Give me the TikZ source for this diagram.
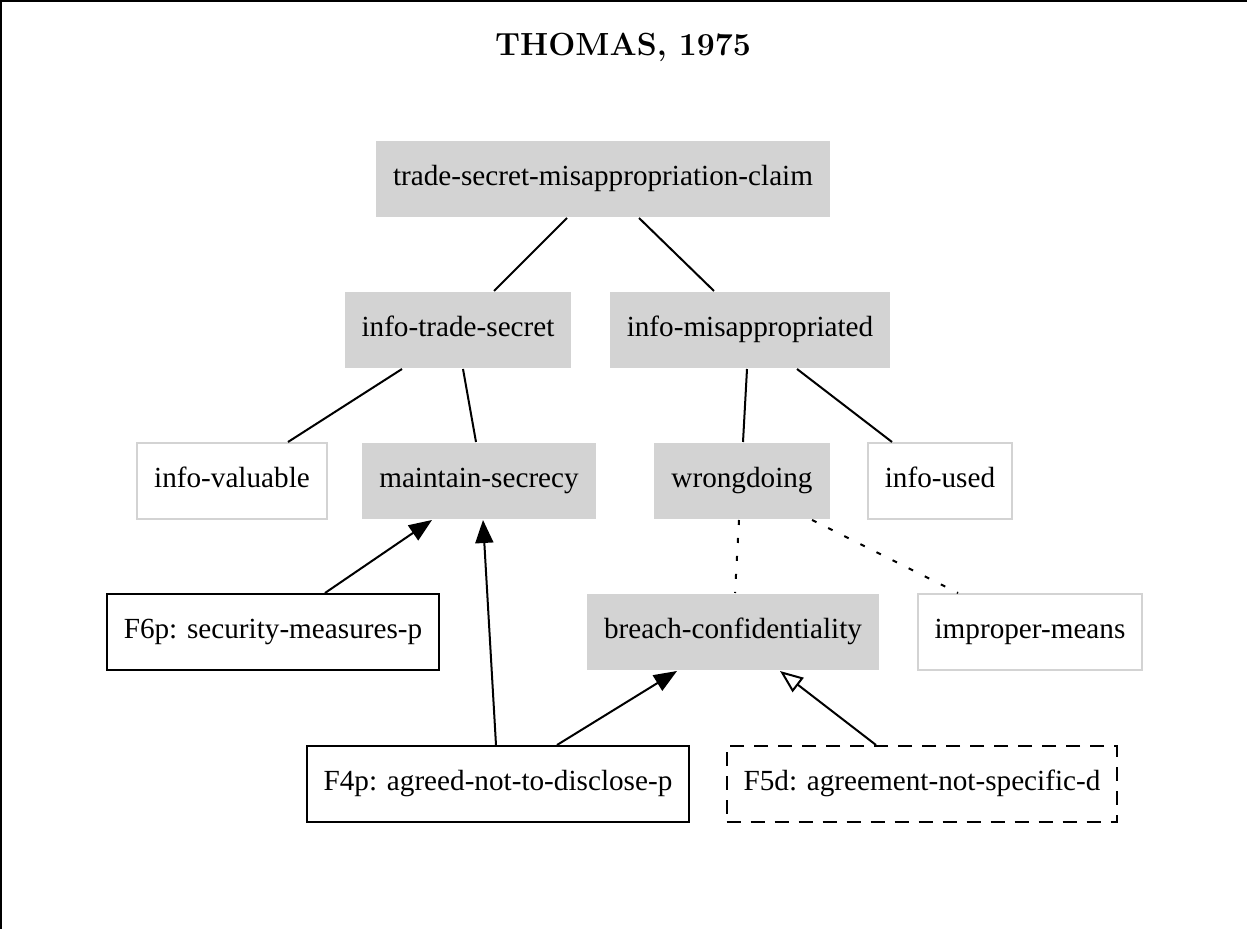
\documentclass[tikz,border=0pt]{standalone}
\usepackage{fontspec}
\newfontfamily\gvfont{Liberation Serif}
\usepackage{tikz}
\usetikzlibrary{arrows.meta,positioning,calc}
\definecolor{gvgray}{HTML}{D3D3D3}

\begin{document}
\begin{tikzpicture}[x=0.5pt,y=-0.5pt,on grid,line width=1pt,
  >={Triangle[length=11.5pt,width=9pt]},
  box/.style={rectangle,minimum height=38pt,inner xsep=8.5pt,inner ysep=0pt,text height=10pt,text depth=3.3pt,
    font=\gvfont\fontsize{14.6}{17}\selectfont},
  issue/.style={box,fill=gvgray},
  openissue/.style={box,draw=gvgray},
  pfactor/.style={box,draw=black},
  dfactor/.style={box,draw=black,dash pattern=on 7pt off 5pt}]
  \useasboundingbox (0,0) rectangle (1247,929);
  \draw (1,929) -- (1,1) -- (1247,1);

  \node (title) at (623,47) {\fontsize{16}{19}\selectfont\bfseries THOMAS, 1975};

  \node[issue]     (tsm) at (603,179) {trade-secret-misappropriation-claim};
  \node[issue]     (its) [below left =75.5pt and 72.5pt of tsm]   {info-trade-secret};
  \node[issue]     (im)  [below right=75.5pt and 73.5pt of tsm]   {info-misappropriated};
  \node[openissue] (iv)  [below left =75.5pt and 113pt of its]    {info-valuable};
  \node[issue]     (ms)  [below right=75.5pt and 10.5pt of its]   {maintain-secrecy};
  \node[issue]     (wd)  [below left =75.5pt and 4pt of im]       {wrongdoing};
  \node[openissue] (iu)  [below right=75.5pt and 95pt of im]      {info-used};
  \node[pfactor]   (f6)  [below left =75.5pt and 103pt of ms]     {F6p: security-measures-p};
  \node[issue]     (bc)  [below left =75.5pt and 4.5pt of wd]     {breach-confidentiality};
  \node[openissue] (pm)  [below right=75.5pt and 144pt of wd]     {improper-means};
  \node[pfactor]   (f4)  [below right=151.5pt and 9.5pt of ms]    {F4p: agreed-not-to-disclose-p};
  \node[dfactor]   (f5)  [below right=76pt and 94.5pt of bc]      {F5d: agreement-not-specific-d};

  \tikzset{link/.style={-},weak/.style={-,dash pattern=on 2.5pt off 6.5pt},
    support/.style={->},attack/.style={-{Triangle[open,length=11.5pt,width=9pt]}}}

  \path ($(tsm.south)+(-36,0)$) edge [link] ($(its.north)+(36,0)$)
        ($(tsm.south)+(36,0)$)  edge [link] ($(im.north)+(-36,0)$)
        ($(its.south)+(-56,0)$) edge [link] ($(iv.north)+(56,0)$)
        ($(its.south)+(5,0)$)   edge [link] ($(ms.north)+(-3,0)$)
        ($(im.south)+(-3,0)$)   edge [link] ($(wd.north)+(1,0)$)
        ($(im.south)+(47,0)$)   edge [link] ($(iu.north)+(-48,0)$)
        ($(wd.south)+(-3,0)$)   edge [weak] ($(bc.north)+(2,0)$)
        ($(wd.south)+(70,0)$)   edge [weak] ($(pm.north)+(-72,0)$)
        ($(f6.north)+(52,0)$)   edge [support] ($(ms.south)+(-47,0)$)
        ($(f4.north)+(-2,0)$)   edge [support] ($(ms.south)+(4,0)$)
        ($(f4.north)+(59,0)$)   edge [support] ($(bc.south)+(-56,0)$)
        ($(f5.north)+(-46,0)$)  edge [attack]  ($(bc.south)+(47,0)$);
\end{tikzpicture}
\end{document}
